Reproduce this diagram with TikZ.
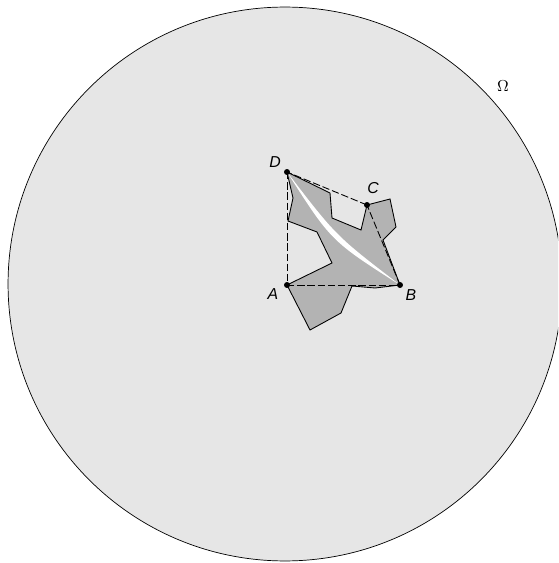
\documentclass[tikz,border=0pt]{standalone}
\usepackage{fontspec}
\setsansfont{Liberation Sans}
\usepackage{xcolor}
\usepackage{tikz}
\usetikzlibrary{positioning}
\definecolor{domGray}{RGB}{230,230,230}
\definecolor{setGray}{RGB}{179,179,179}
\tikzset{
  vtx/.style={circle, fill=black, inner sep=0pt, minimum size=3.4pt},
  vlabel/.style={font=\sffamily\itshape\small, inner sep=1pt},
  side/.style={dashed, dash pattern=on 4.2pt off 1.6pt, line width=0.5pt},
}
\begin{document}
\begin{tikzpicture}[x=0.02cm, y=-0.02cm]
  \useasboundingbox (0,0) rectangle (558,563);
  \clip (0,0) rectangle (558,563);
  % the domain
  \fill[domGray] (285,284) circle [radius=5.54cm];
  \draw[line width=0.4pt] (285,284) circle [radius=5.54cm];
  \node[font=\small] (omega) at (503,86) {$\Omega$};
  % corners
  \coordinate (A) at (287,285);
  \coordinate (B) at (400,285);
  \coordinate (C) at (367,205);
  \coordinate (D) at (287,172);
  % the set
  \filldraw[fill=setGray, line width=0.5pt, line join=miter]
    (D) -- (330,193) -- (332,218) -- (361,230) -- (C) -- (390,199)
    -- (396,227) -- (383,240) -- (B) -- (375,288) -- (352,286)
    -- (341,313) -- (310,330) -- (A) -- (332,263) -- (317,232)
    -- (288,221) -- (293,198) -- cycle;
  % the path from D to B
  \fill[white] (D) .. controls (331,241) .. (B) .. controls (336,236) .. (D);
  % quadrilateral
  \draw[side] (A) -- (B);
  \draw[side] (B) -- (C);
  \draw[side] (C) -- (D);
  \draw[side] (D) -- (A);
  \foreach \p in {A,B,C,D} \node[vtx] at (\p) {};
  \node[vlabel] (lA) at (273,294) {A};
  \node[vlabel] (lB) at (411,295) {B};
  \node[vlabel] (lC) at (373,188) {C};
  \node[vlabel] (lD) at (275,162) {D};
\end{tikzpicture}
\end{document}
